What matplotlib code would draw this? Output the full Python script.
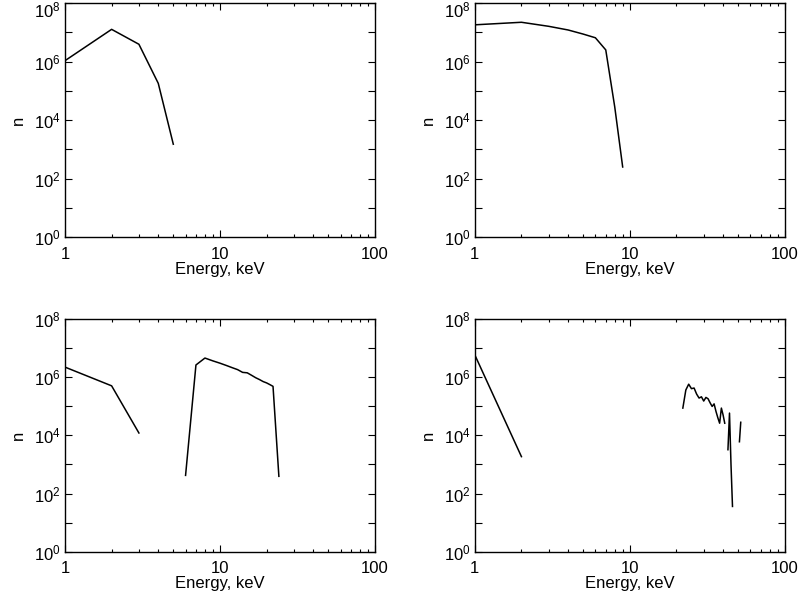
import matplotlib
matplotlib.use("Agg")
import matplotlib.pyplot as plt
import matplotlib.transforms as mtransforms
import numpy as np

plt.rcParams['font.family'] = ['Liberation Sans', 'DejaVu Sans']
plt.rcParams['mathtext.default'] = 'regular'
plt.rcParams['font.size'] = 12

# spectra, energies in keV (each list is one connected piece)
e_a1 = [1, 2, 3, 4, 5]
n_a1 = [1.07e6, 1.26e7, 3.9e6, 1.8e5, 1.5e3]

e_b1 = [1, 2, 3, 4, 5, 6, 7, 8, 9]
n_b1 = [1.8e7, 2.2e7, 1.6e7, 1.2e7, 8.7e6, 6.5e6, 2.5e6, 2.8e4, 2.5e2]

e_c1 = [1, 2, 3]
n_c1 = [2.2e6, 5.0e5, 1.2e4]
e_c2 = [6, 7, 8, 9, 10, 11, 12, 13, 14, 15, 16, 17, 18, 19, 20, 21, 22, 24]
n_c2 = [4.2e2, 2.6e6, 4.5e6, 3.6e6, 3.0e6, 2.5e6, 2.1e6, 1.8e6, 1.45e6, 1.4e6,
        1.15e6, 9.5e5, 8.2e5, 7.0e5, 6.3e5, 5.5e5, 4.8e5, 3.9e2]

e_d1 = [1, 2]
n_d1 = [5.8e6, 1.85e3]
e_d2 = list(range(22, 42))
n_d2 = [8.6e4, 3.6e5, 5.7e5, 4.0e5, 4.2e5, 2.6e5, 1.9e5, 2.1e5, 1.5e5, 2.0e5,
        1.8e5, 1.3e5, 9.8e4, 1.2e5, 6.6e4, 4.0e4, 2.6e4, 8.6e4, 5.0e4, 2.6e4]
e_d3 = [43, 44, 45, 46]
n_d3 = [3.2e3, 5.8e4, 9.7e2, 36]
e_d4 = [51, 52]
n_d4 = [6.0e3, 2.8e4]

panels = [
    [(e_a1, n_a1)],
    [(e_b1, n_b1)],
    [(e_c1, n_c1), (e_c2, n_c2)],
    [(e_d1, n_d1), (e_d2, n_d2), (e_d3, n_d3), (e_d4, n_d4)],
]

ytick_vals = [10.0 ** k for k in range(0, 9)]
ytick_labels = ['$10^{%d}$' % k if k % 2 == 0 else '' for k in range(0, 9)]

fig = plt.figure(figsize=(8.02, 6.05), dpi=100)
boxes = [
    [0.081, 0.608, 0.3865, 0.387],
    [0.592, 0.608, 0.3865, 0.387],
    [0.081, 0.088, 0.3865, 0.385],
    [0.592, 0.088, 0.3865, 0.385],
]

for i, (box, pieces) in enumerate(zip(boxes, panels)):
    ax = fig.add_axes(box)
    for e, n in pieces:
        ax.plot(e, n, color='black', lw=1.1)
    ax.set_xscale('log')
    ax.set_yscale('log')
    ax.set_xlim(1, 100)
    ax.set_ylim(1, 1e8)
    ax.set_xticks([1, 10, 100])
    ax.set_xticklabels(['1', '10', '100'])
    ax.xaxis.set_minor_locator(matplotlib.ticker.LogLocator(base=10, subs=np.arange(2, 10)))
    ax.xaxis.set_minor_formatter(matplotlib.ticker.NullFormatter())
    ax.set_yticks(ytick_vals)
    ax.set_yticklabels(ytick_labels)
    ax.yaxis.set_minor_locator(matplotlib.ticker.NullLocator())
    ax.tick_params(which='both', direction='in', top=True, right=True, width=0.8)
    ax.tick_params(which='major', length=5, labelsize=12)
    ax.tick_params(which='minor', length=2.5)
    ax.tick_params(axis='x', pad=7)
    ax.tick_params(axis='y', pad=3)
    for s in ax.spines.values():
        s.set_linewidth(1.0)
    ax.set_xlabel('Energy, keV', labelpad=0)
    ax.set_ylabel('n', labelpad=6)
    if i < 2:
        # nudge the top label down so it stays inside the figure
        top = ax.get_yticklabels()[-1]
        top.set_transform(top.get_transform() + mtransforms.ScaledTranslation(0, -4 / 72, fig.dpi_scale_trans))

fig.savefig('out.png', dpi=100)
